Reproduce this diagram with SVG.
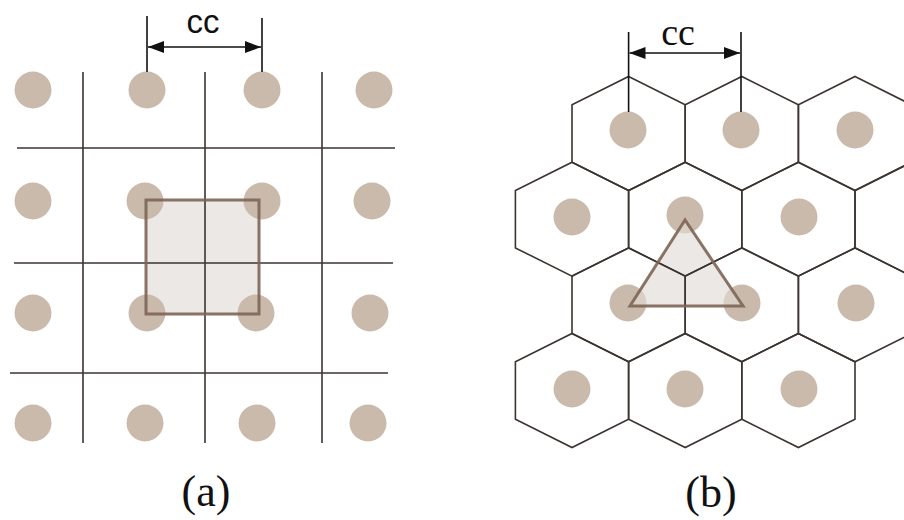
<svg xmlns="http://www.w3.org/2000/svg" xmlns:xlink="http://www.w3.org/1999/xlink" width="904" height="520" viewBox="0 0 904 520">
  <style>
    .dot { fill: #c9baac; }
    .grid { stroke: #3b3430; stroke-width: 1.6; fill: none; }
    .hex { stroke: #3b3430; stroke-width: 1.6; fill: none; }
    .dim { stroke: #111; stroke-width: 1.6; fill: none; }
    .cell { fill: #ebe8e5; }
    .cellline { fill: none; stroke: #7d6554; stroke-width: 3; stroke-opacity: 0.9; }
    .sans { font-family: "Liberation Sans", Arial, sans-serif; fill: #111; }
    .serif { font-family: "Liberation Serif", "Times New Roman", serif; fill: #111; }
  </style>
  <defs>
    <marker id="arr" viewBox="0 0 16 12" refX="16" refY="6" markerWidth="16" markerHeight="12" markerUnits="userSpaceOnUse" orient="auto-start-reverse">
      <path d="M0,0 L16,6 L0,12 Z" fill="#111"/>
    </marker>
    <polygon id="hex" points="0,-57 56.6,-28.7 56.6,28.7 0,57 -56.6,28.7 -56.6,-28.7"/>
  </defs>
  <rect width="904" height="520" fill="#ffffff"/>

  <!-- Panel (a): square array -->
  <g id="panel-a">
    <rect id="unit-square-fill" class="cell" x="146" y="200" width="113" height="114"/>
    <g id="fibers-a">
      <circle class="dot" cx="33" cy="90" r="18.5"/>
      <circle class="dot" cx="147" cy="90" r="18.5"/>
      <circle class="dot" cx="262" cy="90" r="18.5"/>
      <circle class="dot" cx="374" cy="90" r="18.5"/>
      <circle class="dot" cx="33" cy="201" r="18.5"/>
      <circle class="dot" cx="145" cy="201" r="18.5"/>
      <circle class="dot" cx="262" cy="201" r="18.5"/>
      <circle class="dot" cx="372" cy="201" r="18.5"/>
      <circle class="dot" cx="33" cy="313" r="18.5"/>
      <circle class="dot" cx="147" cy="313" r="18.5"/>
      <circle class="dot" cx="256" cy="313" r="18.5"/>
      <circle class="dot" cx="370" cy="313" r="18.5"/>
      <circle class="dot" cx="33" cy="423" r="18.5"/>
      <circle class="dot" cx="145" cy="423" r="18.5"/>
      <circle class="dot" cx="257" cy="423" r="18.5"/>
      <circle class="dot" cx="368" cy="423" r="18.5"/>
    </g>
    <g id="grid-a" class="grid">
      <line x1="83" y1="72" x2="83" y2="443"/>
      <line x1="205" y1="72" x2="205" y2="443"/>
      <line x1="322" y1="72" x2="322" y2="443"/>
      <line x1="17" y1="148" x2="395" y2="148"/>
      <line x1="14" y1="263" x2="393" y2="263"/>
      <line x1="10" y1="373" x2="388" y2="373"/>
    </g>
    <rect id="unit-square" class="cellline" x="146" y="200" width="113" height="114"/>
    <g id="dim-a">
      <line class="dim" x1="147" y1="16" x2="147" y2="72"/>
      <line class="dim" x1="262" y1="18" x2="262" y2="72"/>
      <line class="dim" x1="148" y1="47" x2="261" y2="47" marker-start="url(#arr)" marker-end="url(#arr)"/>
      <text class="sans" x="203" y="33" font-size="33" text-anchor="middle">cc</text>
    </g>
    <text id="label-a" class="serif" x="206" y="506" font-size="44" text-anchor="middle">(a)</text>
  </g>

  <!-- Panel (b): hexagonal array -->
  <g id="panel-b">
    <polygon id="unit-triangle-fill" class="cell" points="685,220 630,306 743,306"/>
    <g id="fibers-b">
      <circle class="dot" cx="628" cy="130" r="18.5"/>
      <circle class="dot" cx="741" cy="130" r="18.5"/>
      <circle class="dot" cx="855" cy="130" r="18.5"/>
      <circle class="dot" cx="572" cy="217" r="18.5"/>
      <circle class="dot" cx="685" cy="215" r="18.5"/>
      <circle class="dot" cx="799" cy="217" r="18.5"/>
      <circle class="dot" cx="628" cy="303" r="18.5"/>
      <circle class="dot" cx="742" cy="303" r="18.5"/>
      <circle class="dot" cx="856" cy="303" r="18.5"/>
      <circle class="dot" cx="572" cy="389" r="18.5"/>
      <circle class="dot" cx="685" cy="389" r="18.5"/>
      <circle class="dot" cx="799" cy="389" r="18.5"/>
    </g>
    <polygon id="unit-triangle-veil" points="685,220 630,306 743,306" fill="#ebe8e5" fill-opacity="0.45"/>
    <g id="hex-cells" class="hex">
      <use xlink:href="#hex" href="#hex" x="628.6" y="133.5"/>
      <use xlink:href="#hex" href="#hex" x="741.8" y="133.5"/>
      <use xlink:href="#hex" href="#hex" x="855" y="133.5"/>
      <use xlink:href="#hex" href="#hex" x="572" y="219.2"/>
      <use xlink:href="#hex" href="#hex" x="685.2" y="219.2"/>
      <use xlink:href="#hex" href="#hex" x="798.4" y="219.2"/>
      <use xlink:href="#hex" href="#hex" x="911.6" y="219.2"/>
      <use xlink:href="#hex" href="#hex" x="628.6" y="304.8"/>
      <use xlink:href="#hex" href="#hex" x="741.8" y="304.8"/>
      <use xlink:href="#hex" href="#hex" x="855" y="304.8"/>
      <use xlink:href="#hex" href="#hex" x="572" y="390.5"/>
      <use xlink:href="#hex" href="#hex" x="685.2" y="390.5"/>
      <use xlink:href="#hex" href="#hex" x="798.4" y="390.5"/>
    </g>
    <polygon id="unit-triangle" class="cellline" points="685,220 630,306 743,306"/>
    <g id="dim-b">
      <line class="dim" x1="628.6" y1="32" x2="628.6" y2="112"/>
      <line class="dim" x1="741" y1="32" x2="741" y2="112"/>
      <line class="dim" x1="629.5" y1="53" x2="740" y2="53" marker-start="url(#arr)" marker-end="url(#arr)"/>
      <text class="serif" x="678" y="45" font-size="38" text-anchor="middle">cc</text>
    </g>
    <text id="label-b" class="serif" x="711" y="507" font-size="44" text-anchor="middle">(b)</text>
  </g>
</svg>
